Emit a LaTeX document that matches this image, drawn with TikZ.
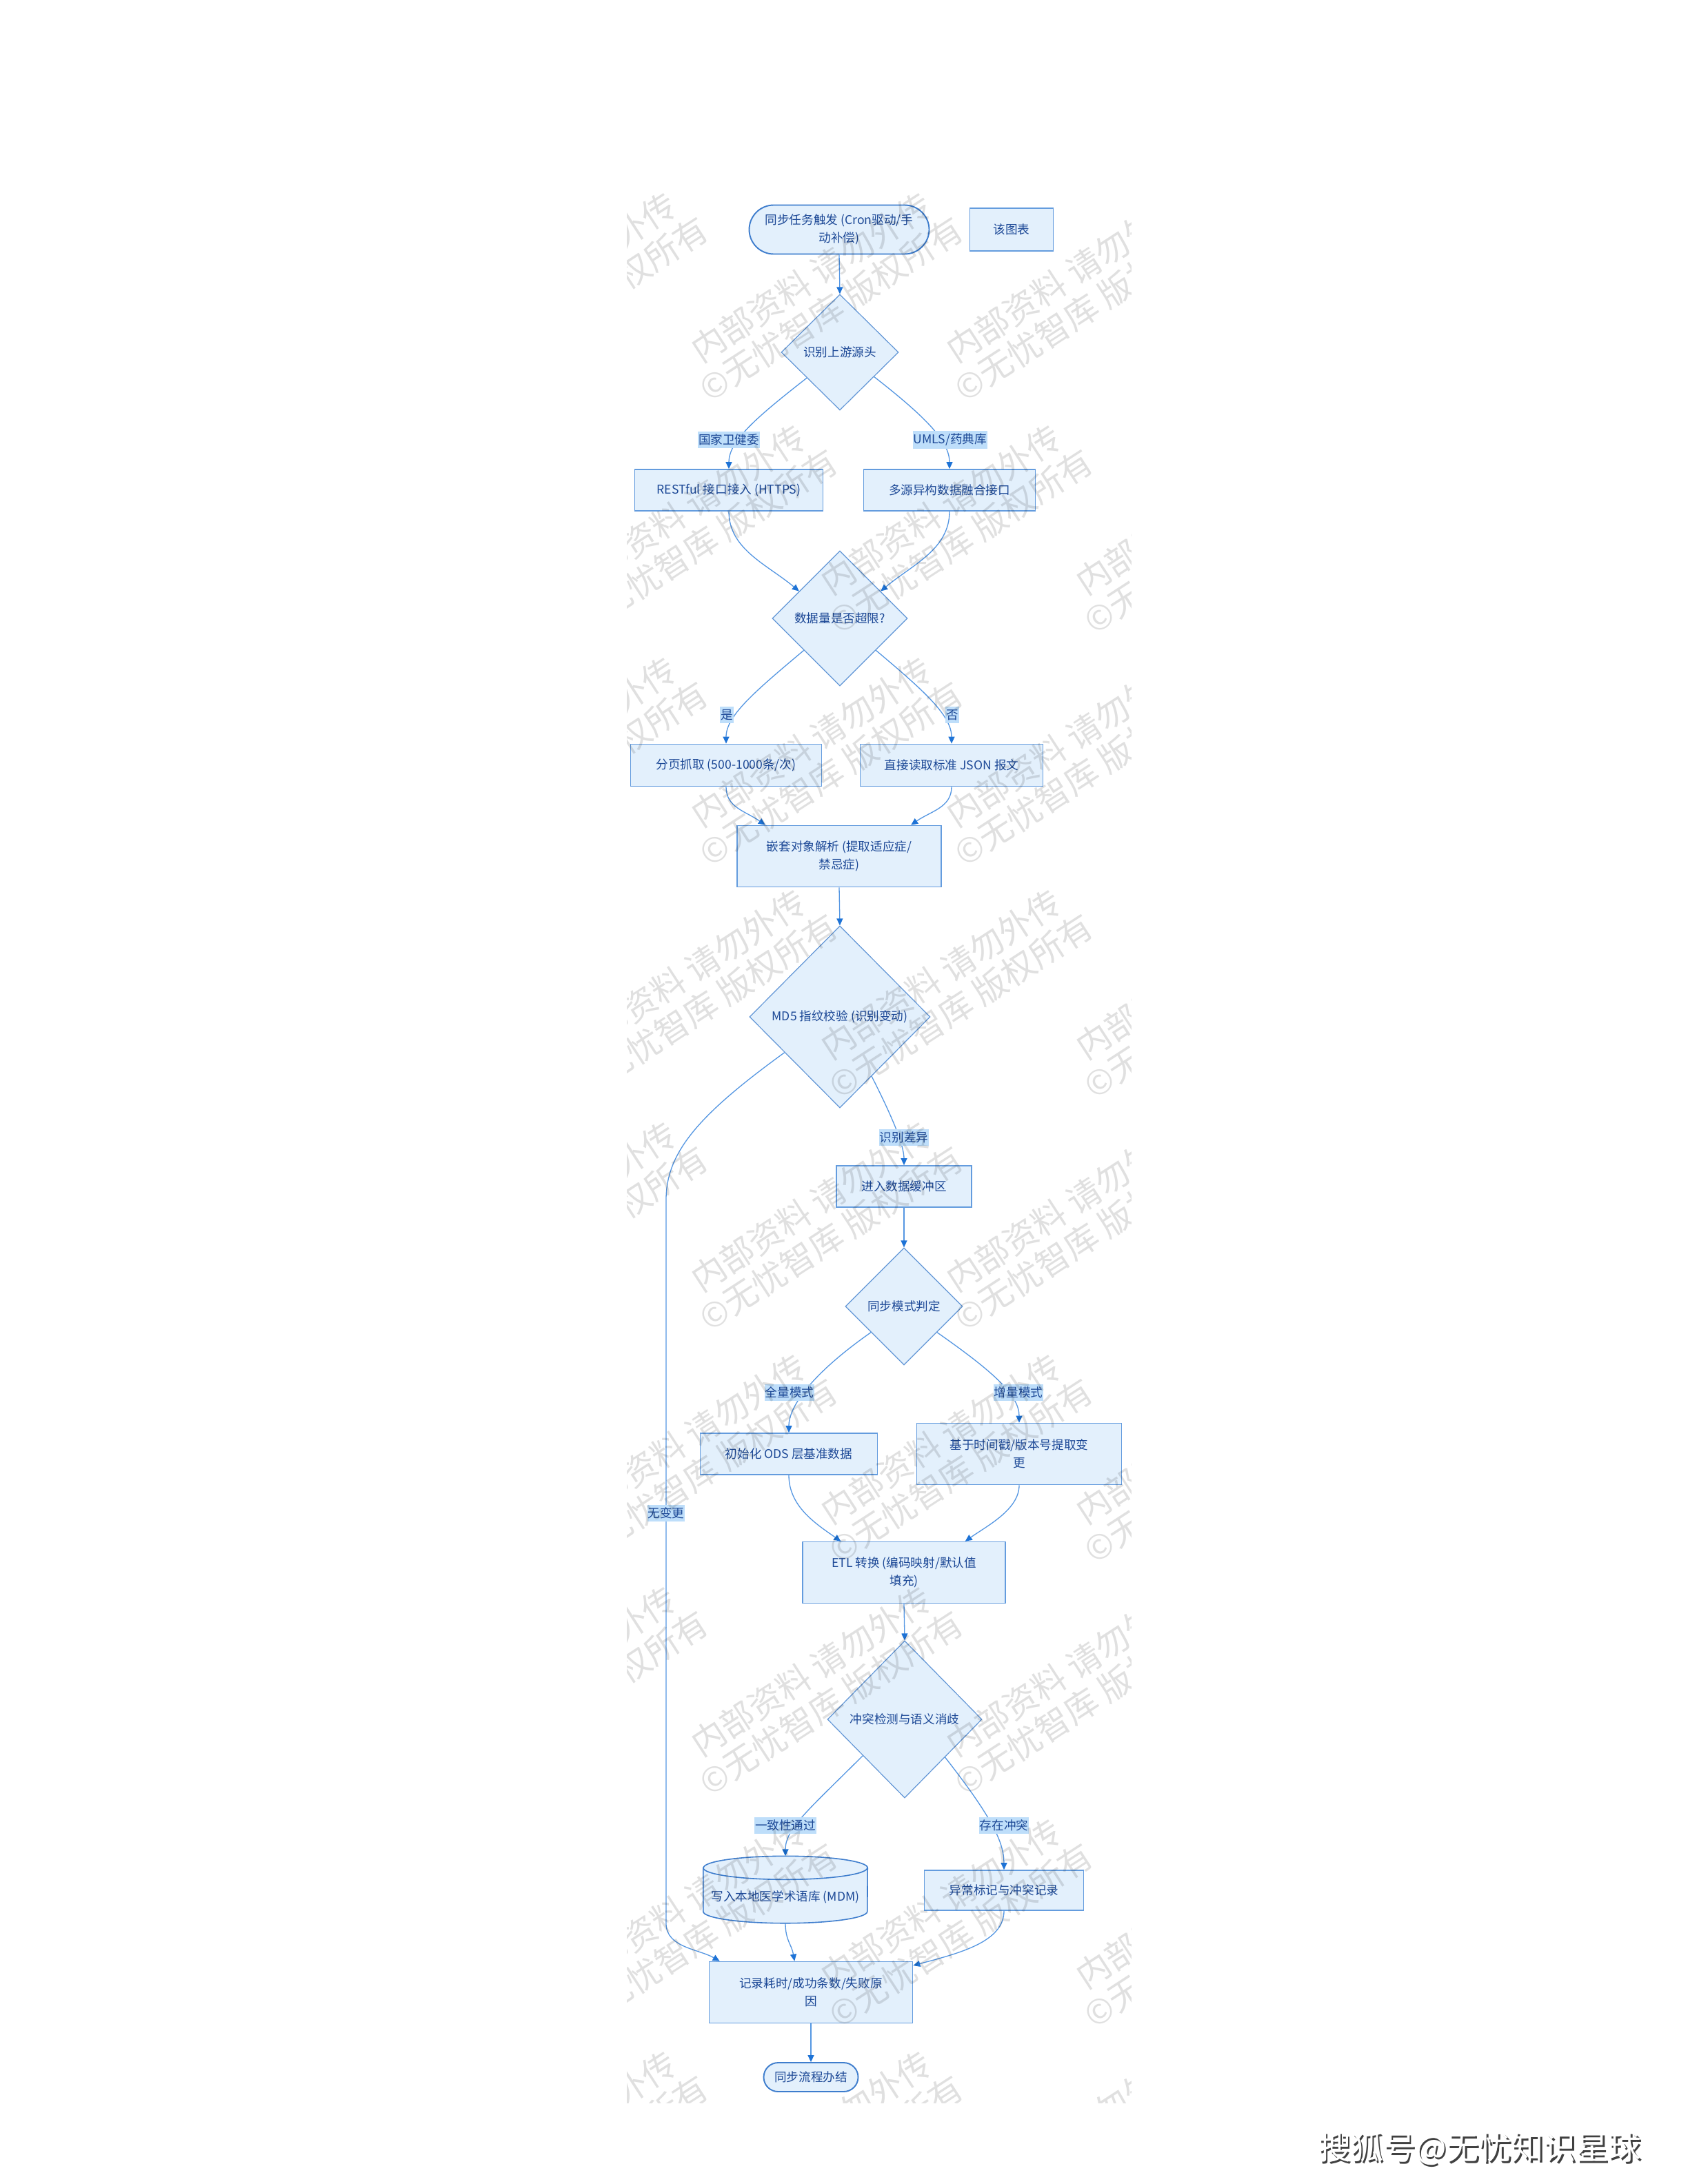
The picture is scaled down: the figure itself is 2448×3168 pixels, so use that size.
\documentclass[tikz,border=0pt]{standalone}
\usepackage{fontspec}
\setmainfont{Noto Sans CJK SC}
\usetikzlibrary{shapes.geometric,shapes.misc,arrows.meta,calc}
\definecolor{nodefill}{RGB}{227,240,252}
\definecolor{nodeborder}{RGB}{100,156,222}
\definecolor{diaborder}{RGB}{98,150,214}
\definecolor{pillborder}{RGB}{62,125,205}
\definecolor{txtcol}{RGB}{28,72,150}
\definecolor{edgecol}{RGB}{84,150,226}
\definecolor{arrowcol}{RGB}{30,115,214}
\definecolor{lblfill}{RGB}{190,222,250}
\newcommand\fsn{\fontsize{17.6pt}{26pt}\selectfont}
\newcommand\fswm{\fontsize{49pt}{54pt}\selectfont}
\newcommand\fssohu{\fontsize{47pt}{56pt}\selectfont}
\tikzset{
  box/.style={rectangle, draw=nodeborder, fill=nodefill, line width=1.7pt, text=txtcol, font=\fsn, align=center, inner sep=0pt},
  dia/.style={diamond, draw=diaborder, fill=nodefill, line width=1.2pt, text=txtcol, font=\fsn, align=center, inner sep=0pt},
  pill/.style={rounded rectangle, draw=pillborder, fill=nodefill, line width=1.9pt, text=txtcol, font=\fsn, align=center, inner sep=0pt},
  cylfill/.style={draw=pillborder, fill=nodefill, line width=1.6pt},
  edge/.style={draw=edgecol, line width=1.3pt, -{Triangle[length=10pt,width=9pt,color=arrowcol]}},
  lbl/.style={fill=lblfill, text=txtcol, font=\fsn, inner xsep=1pt, inner ysep=4pt},
  wm/.style={text=black, text opacity=0.12, font=\fswm, rotate=33, inner sep=0pt, align=center}
}
\begin{document}
\begin{tikzpicture}[x=1pt,y=-1pt]
\useasboundingbox (0,0) rectangle (2448,3168);
\fill[white] (0,0) rectangle (2448,3168);

% ---------- nodes ----------
\node[pill, minimum width=261pt, minimum height=71pt] (start) at (1217,333) {同步任务触发 (Cron驱动/手\\动补偿)};
\node[box, minimum width=121pt, minimum height=62pt] (legend) at (1467,333) {该图表};
\node[dia, minimum width=170pt, minimum height=168pt] (d1) at (1218,511) {识别上游源头};
\node[box, minimum width=273pt, minimum height=60pt] (rest) at (1057,711) {RESTful 接口接入 (HTTPS)};
\node[box, minimum width=249pt, minimum height=60pt] (multi) at (1377,711) {多源异构数据融合接口};
\node[dia, minimum width=196pt, minimum height=196pt] (d2) at (1218,897) {数据量是否超限?};
\node[box, minimum width=277pt, minimum height=61pt] (page) at (1053,1110) {分页抓取 (500-1000条/次)};
\node[box, minimum width=265pt, minimum height=61pt] (direct) at (1380,1110) {直接读取标准 JSON 报文};
\node[box, minimum width=296pt, minimum height=89pt] (nest) at (1217,1242) {嵌套对象解析 (提取适应症/\\禁忌症)};
\node[dia, minimum width=262pt, minimum height=264pt] (md5) at (1218,1475) {MD5 指纹校验 (识别变动)};
\node[box, minimum width=196pt, minimum height=60pt] (buffer) at (1311,1721) {进入数据缓冲区};
\node[dia, minimum width=170pt, minimum height=170pt] (mode) at (1311,1895) {同步模式判定};
\node[box, minimum width=257pt, minimum height=60pt] (init) at (1144,2109) {初始化 ODS 层基准数据};
\node[box, minimum width=297pt, minimum height=89pt] (incr) at (1478,2109) {基于时间戳/版本号提取变\\更};
\node[box, minimum width=294pt, minimum height=89pt] (etl) at (1311,2281) {ETL 转换 (编码映射/默认值\\填充)};
\node[dia, minimum width=224pt, minimum height=228pt] (conf) at (1312,2494) {冲突检测与语义消歧};
\node[minimum width=238pt, minimum height=97pt, inner sep=0pt] (mdm) at (1139,2741) {};
\path[cylfill] ($(mdm.north west)+(0pt,-17pt)$) -- ($(mdm.south west)+(0pt,17pt)$)
   arc[start angle=180, end angle=360, x radius=119pt, y radius=17pt]
   -- ($(mdm.north east)+(0pt,-17pt)$)
   arc[start angle=0, end angle=180, x radius=119pt, y radius=17pt] -- cycle;
\draw[draw=pillborder, line width=1.6pt] ($(mdm.north west)+(0pt,-17pt)$)
   arc[start angle=180, end angle=360, x radius=119pt, y radius=17pt];
\node[text=txtcol, font=\fsn, inner sep=0pt] (mdmtext) at ($(mdm.center)+(0pt,-11pt)$) {写入本地医学术语库 (MDM)};
\node[box, minimum width=231pt, minimum height=58pt] (anom) at (1456,2742) {异常标记与冲突记录};
\node[box, minimum width=295pt, minimum height=89pt] (log) at (1176,2890) {记录耗时/成功条数/失败原\\因};
\node[pill, minimum width=137pt, minimum height=42pt] (end) at (1176,3013) {同步流程办结};

\coordinate (nc1) at (966,1740);
\coordinate (nc2) at (966,2790);

% ---------- edges ----------
\draw[edge] (start.south) -- (d1.north);
\draw[edge] ($(d1.west)!0.44!(d1.south)$) .. controls +(-142:95pt) and +(90:40pt) .. (rest.north);
\draw[edge] ($(d1.east)!0.42!(d1.south)$) .. controls +(-38:95pt) and +(90:40pt) .. (multi.north);
\draw[edge] (rest.south) .. controls +(-90:55pt) and +(140:60pt) .. ($(d2.north)!0.6!(d2.west)$);
\draw[edge] (multi.south) .. controls +(-90:55pt) and +(40:60pt) .. ($(d2.north)!0.6!(d2.east)$);
\draw[edge] ($(d2.west)!0.47!(d2.south)$) .. controls +(-140:95pt) and +(90:40pt) .. (page.north);
\draw[edge] ($(d2.east)!0.47!(d2.south)$) .. controls +(-40:95pt) and +(90:40pt) .. (direct.north);
\draw[edge] (page.south) .. controls +(-90:30pt) and +(145:35pt) .. ($(nest.north west)!0.14!(nest.north east)$);
\draw[edge] (direct.south) .. controls +(-90:30pt) and +(35:35pt) .. ($(nest.north west)!0.85!(nest.north east)$);
\draw[edge] (nest.south) -- (md5.north);
\draw[edge] ($(md5.east)!0.65!(md5.south)$) .. controls +(-63:60pt) and +(90:30pt) .. (buffer.north);
\draw[edge] ($(md5.west)!0.39!(md5.south)$) .. controls +(-144:150pt) and +(90:70pt) .. (nc1) -- (nc2)
   .. controls +(-90:35pt) and +(150:35pt) .. ($(log.north west)!0.054!(log.north east)$);
\draw[edge] (buffer.south) -- (mode.north);
\draw[edge] ($(mode.west)!0.44!(mode.south)$) .. controls +(-145:100pt) and +(90:40pt) .. (init.north);
\draw[edge] ($(mode.east)!0.44!(mode.south)$) .. controls +(-35:100pt) and +(90:40pt) .. (incr.north);
\draw[edge] (init.south) .. controls +(-90:45pt) and +(145:45pt) .. ($(etl.north west)!0.19!(etl.north east)$);
\draw[edge] (incr.south) .. controls +(-90:35pt) and +(35:40pt) .. ($(etl.north west)!0.80!(etl.north east)$);
\draw[edge] (etl.south) -- (conf.north);
\draw[edge] ($(conf.west)!0.46!(conf.south)$) .. controls +(-135:110pt) and +(90:40pt) .. (mdm.north);
\draw[edge] ($(conf.east)!0.48!(conf.south)$) .. controls +(-52:110pt) and +(90:40pt) .. (anom.north);
\draw[edge] (mdm.south) .. controls +(-90:25pt) and +(100:25pt) .. ($(log.north west)!0.42!(log.north east)$);
\draw[edge] (anom.south) .. controls +(-90:45pt) and +(15:70pt) .. ($(log.north east)!0.07!(log.south east)$);
\draw[edge] (log.south) -- (end.north);

% ---------- edge labels ----------
\node[lbl] (l1) at (1057,638) {国家卫健委};
\node[lbl] (l2) at (1378,638) {UMLS/药典库};
\node[lbl] (l3) at (1054,1037) {是};
\node[lbl] (l4) at (1381,1037) {否};
\node[lbl] (l5) at (1311,1650) {识别差异};
\node[lbl] (l6) at (966,2195) {无变更};
\node[lbl] (l7) at (1145,2020) {全量模式};
\node[lbl] (l8) at (1477,2020) {增量模式};
\node[lbl] (l9) at (1139,2648) {一致性通过};
\node[lbl] (l10) at (1456,2648) {存在冲突};

% ---------- watermark ----------
\begin{scope}
\clip (909,270) rectangle (1640,3050);
\foreach \r in {0,...,9}{
  \foreach \k in {-1,...,2}{
    \pgfmathsetmacro{\xx}{1004+370*\k-182*mod(\r+1,2)+187}
    \pgfmathsetmacro{\yy}{178+337*\r-90}
    \node[wm] (wm-\r-\k) at (\xx,\yy) {内部资料 请勿外传\\©无忧智库 版权所有};
  }
}
\end{scope}

% ---------- site mark ----------
\node[font=\fssohu, text=black!75, inner sep=0pt] (sohushadow) at (2148.5,3119.5) {搜狐号@无忧知识星球};
\node[font=\fssohu, text=white, inner sep=0pt] (sohu) at (2146,3117) {搜狐号@无忧知识星球};
\end{tikzpicture}
\end{document}
